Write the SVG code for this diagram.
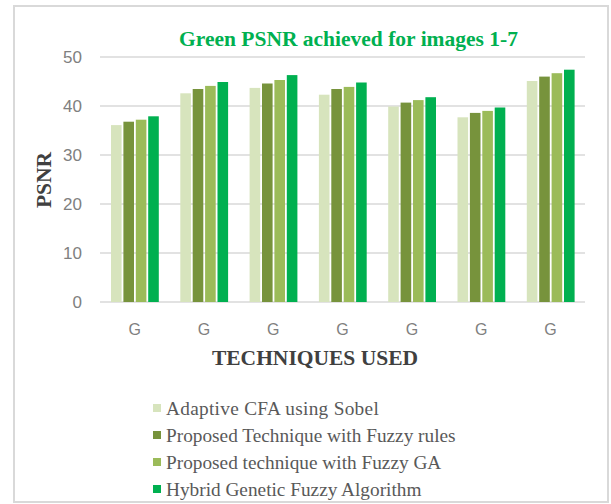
<svg xmlns="http://www.w3.org/2000/svg" width="611" height="504" viewBox="0 0 611 504">
  <style>
    .frame { fill: #ffffff; stroke: #d9d9d9; stroke-width: 2; }
    .grid { stroke: #d9d9d9; stroke-width: 1.5; }
    .tick { font-family: "Liberation Sans", Arial, sans-serif; font-size: 17px; fill: #808080; }
    .cat { font-family: "Liberation Sans", Arial, sans-serif; font-size: 16px; fill: #808080; text-anchor: middle; }
    .title { font-family: "Liberation Serif", "Times New Roman", serif; font-weight: bold; font-size: 21.5px; fill: #00b050; text-anchor: middle; }
    .axis { font-family: "Liberation Serif", "Times New Roman", serif; font-weight: bold; font-size: 21.5px; fill: #404040; text-anchor: middle; }
    .leg { font-family: "Liberation Serif", "Times New Roman", serif; font-size: 19.3px; fill: #595959; }
    .s1 { fill: #d7e4bd; }
    .s2 { fill: #77933c; }
    .s3 { fill: #9bbb59; }
    .s4 { fill: #00b050; }
  </style>

  <!-- chart frame -->
  <rect class="frame" x="14" y="6" width="594" height="496"/>

  <!-- title -->
  <text class="title" x="348.5" y="46">Green PSNR achieved for images 1-7</text>

  <!-- value axis: gridlines every 10 units (4.9 px per unit, 0 at y=302) -->
  <g id="gridlines">
    <line class="grid" x1="100" y1="57" x2="585" y2="57"/>
    <line class="grid" x1="100" y1="106" x2="585" y2="106"/>
    <line class="grid" x1="100" y1="155" x2="585" y2="155"/>
    <line class="grid" x1="100" y1="204" x2="585" y2="204"/>
    <line class="grid" x1="100" y1="253" x2="585" y2="253"/>
    <line class="grid" x1="100" y1="302" x2="585" y2="302"/>
  </g>
  <g id="y-ticks" text-anchor="end">
    <text class="tick" x="82" y="63">50</text>
    <text class="tick" x="82" y="112">40</text>
    <text class="tick" x="82" y="161">30</text>
    <text class="tick" x="82" y="210">20</text>
    <text class="tick" x="82" y="259">10</text>
    <text class="tick" x="82" y="308">0</text>
  </g>
  <text class="axis" transform="translate(50.5,180) rotate(-90)" font-size="22.5">PSNR</text>

  <!-- bars: four series per category, width 10.6, pitch 12.4 -->
  <g id="image-1">
    <rect class="s1" x="111" y="125.1" width="10.6" height="176.9"/>
    <rect class="s2" x="123.4" y="121.7" width="10.6" height="180.3"/>
    <rect class="s3" x="135.8" y="119.7" width="10.6" height="182.3"/>
    <rect class="s4" x="148.2" y="116.3" width="10.6" height="185.7"/>
  </g>
  <g id="image-2">
    <rect class="s1" x="180.3" y="93.3" width="10.6" height="208.7"/>
    <rect class="s2" x="192.7" y="89" width="10.6" height="213"/>
    <rect class="s3" x="205.1" y="85.9" width="10.6" height="216.1"/>
    <rect class="s4" x="217.5" y="82" width="10.6" height="220"/>
  </g>
  <g id="image-3">
    <rect class="s1" x="249.6" y="87.9" width="10.6" height="214.1"/>
    <rect class="s2" x="262" y="83.5" width="10.6" height="218.5"/>
    <rect class="s3" x="274.4" y="80" width="10.6" height="222"/>
    <rect class="s4" x="286.8" y="75.1" width="10.6" height="226.9"/>
  </g>
  <g id="image-4">
    <rect class="s1" x="318.9" y="94.7" width="10.6" height="207.3"/>
    <rect class="s2" x="331.3" y="89" width="10.6" height="213"/>
    <rect class="s3" x="343.7" y="86.9" width="10.6" height="215.1"/>
    <rect class="s4" x="356.1" y="82.5" width="10.6" height="219.5"/>
  </g>
  <g id="image-5">
    <rect class="s1" x="388.2" y="106.5" width="10.6" height="195.5"/>
    <rect class="s2" x="400.6" y="102.6" width="10.6" height="199.4"/>
    <rect class="s3" x="413" y="100.1" width="10.6" height="201.9"/>
    <rect class="s4" x="425.4" y="97.2" width="10.6" height="204.8"/>
  </g>
  <g id="image-6">
    <rect class="s1" x="457.5" y="117.3" width="10.6" height="184.7"/>
    <rect class="s2" x="469.9" y="112.9" width="10.6" height="189.1"/>
    <rect class="s3" x="482.3" y="110.9" width="10.6" height="191.1"/>
    <rect class="s4" x="494.7" y="107.5" width="10.6" height="194.5"/>
  </g>
  <g id="image-7">
    <rect class="s1" x="526.8" y="81" width="10.6" height="221"/>
    <rect class="s2" x="539.2" y="76.6" width="10.6" height="225.4"/>
    <rect class="s3" x="551.6" y="73.2" width="10.6" height="228.8"/>
    <rect class="s4" x="564" y="69.7" width="10.6" height="232.3"/>
  </g>

  <!-- category labels -->
  <g id="x-ticks">
    <text class="cat" x="134.7" y="335">G</text>
    <text class="cat" x="204" y="335">G</text>
    <text class="cat" x="273.3" y="335">G</text>
    <text class="cat" x="342.6" y="335">G</text>
    <text class="cat" x="411.9" y="335">G</text>
    <text class="cat" x="481.2" y="335">G</text>
    <text class="cat" x="550.5" y="335">G</text>
  </g>
  <text class="axis" x="315" y="365">TECHNIQUES USED</text>

  <!-- legend -->
  <g id="legend">
    <rect class="s1" x="153" y="404" width="8" height="8"/>
    <text class="leg" x="166" y="415" letter-spacing="0.3">Adaptive CFA using Sobel</text>
    <rect class="s2" x="153" y="431" width="8" height="8"/>
    <text class="leg" x="166" y="442">Proposed Technique with Fuzzy rules</text>
    <rect class="s3" x="153" y="458" width="8" height="8"/>
    <text class="leg" x="166" y="469">Proposed technique with Fuzzy GA</text>
    <rect class="s4" x="153" y="485" width="8" height="8"/>
    <text class="leg" x="166" y="496">Hybrid Genetic Fuzzy Algorithm</text>
  </g>
</svg>
